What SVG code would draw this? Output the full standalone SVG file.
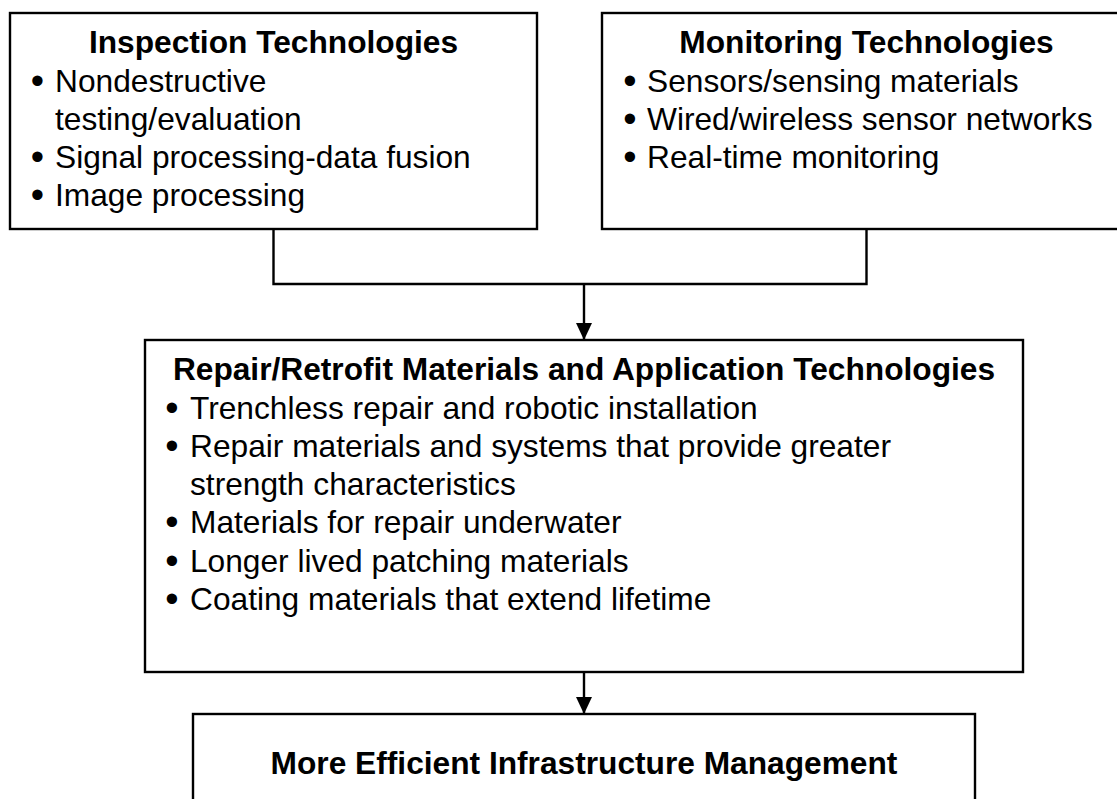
<svg xmlns="http://www.w3.org/2000/svg" width="1117" height="799" viewBox="0 0 1117 799">
<defs>
<style>
.box{fill:#fff;stroke:#000;stroke-width:2.4}
.t{font-family:"Liberation Sans",Arial,sans-serif;font-size:31.7px;fill:#000}
.b{font-weight:bold}
.m{text-anchor:middle}
.bu{font-family:"Liberation Sans",Arial,sans-serif;font-size:38px;fill:#000;text-anchor:middle}
.c{fill:none;stroke:#000;stroke-width:2.4}
</style>
<marker id="ah" markerUnits="userSpaceOnUse" markerWidth="17" markerHeight="16" refX="17" refY="8" orient="auto">
<path d="M0,0 L17,8 L0,16 Z" fill="#000"/>
</marker>
</defs>
<rect width="1117" height="799" fill="#fff"/>

<g id="connectors">
<path class="c" d="M273.5,229 V284 M866.5,229 V284 M272.3,284 H867.7"/>
<path class="c" d="M584,284 V340" marker-end="url(#ah)"/>
<path class="c" d="M584,672 V714" marker-end="url(#ah)"/>
</g>

<g id="inspection">
<rect class="box" x="10" y="13" width="527" height="216"/>
<text class="t b m" x="273.5" y="53">Inspection Technologies</text>
<text class="bu" x="37.5" y="94">•</text>
<text class="t" x="55" y="92">Nondestructive</text>
<text class="t" x="55" y="130">testing/evaluation</text>
<text class="bu" x="37.5" y="170">•</text>
<text class="t" x="55" y="168">Signal processing-data fusion</text>
<text class="bu" x="37.5" y="208">•</text>
<text class="t" x="55" y="206">Image processing</text>
</g>

<g id="monitoring">
<rect class="box" x="602" y="13" width="529" height="216"/>
<text class="t b m" x="866.5" y="53">Monitoring Technologies</text>
<text class="bu" x="630" y="94">•</text>
<text class="t" x="647" y="92">Sensors/sensing materials</text>
<text class="bu" x="630" y="132">•</text>
<text class="t" x="647" y="130">Wired/wireless sensor networks</text>
<text class="bu" x="630" y="170">•</text>
<text class="t" x="647" y="168">Real-time monitoring</text>
</g>

<g id="repair">
<rect class="box" x="145" y="340" width="878" height="332"/>
<text class="t b m" x="584" y="380">Repair/Retrofit Materials and Application Technologies</text>
<text class="bu" x="172" y="421">•</text>
<text class="t" x="190" y="419">Trenchless repair and robotic installation</text>
<text class="bu" x="172" y="459">•</text>
<text class="t" x="190" y="457">Repair materials and systems that provide greater</text>
<text class="t" x="190" y="495">strength characteristics</text>
<text class="bu" x="172" y="535">•</text>
<text class="t" x="190" y="533">Materials for repair underwater</text>
<text class="bu" x="172" y="574">•</text>
<text class="t" x="190" y="572">Longer lived patching materials</text>
<text class="bu" x="172" y="612">•</text>
<text class="t" x="190" y="610">Coating materials that extend lifetime</text>
</g>

<g id="management">
<rect class="box" x="193" y="714" width="782" height="110"/>
<text class="t b m" x="584" y="774">More Efficient Infrastructure Management</text>
</g>
</svg>
